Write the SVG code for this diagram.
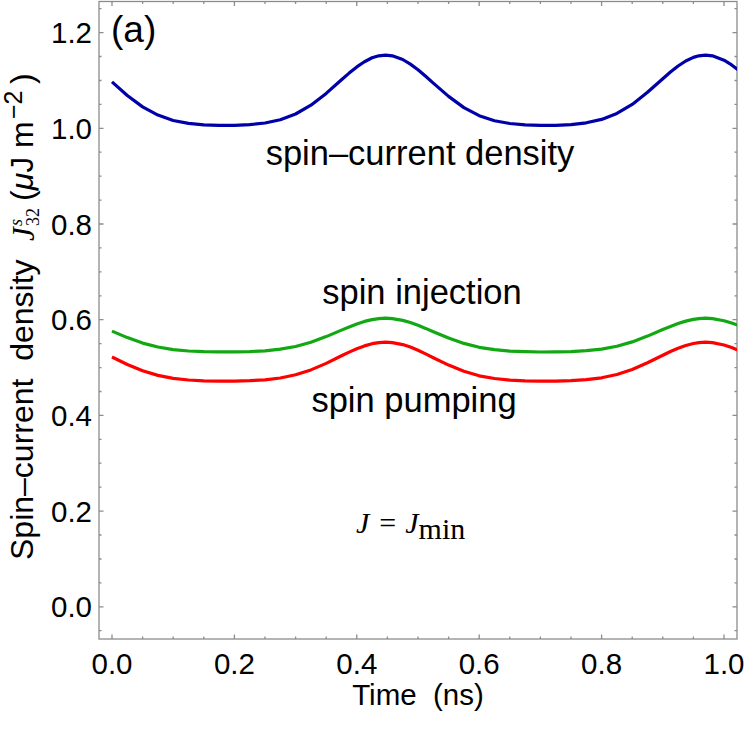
<svg xmlns="http://www.w3.org/2000/svg" width="747" height="729" viewBox="0 0 747 729">
<style>
.lbl{font-family:"Liberation Sans",Arial,sans-serif;fill:#000}
.tk{font-family:"Liberation Sans",Arial,sans-serif;font-size:29.5px;fill:#000}
.ser{font-family:"Liberation Serif","Times New Roman",serif;fill:#000}
.curve{fill:none;stroke-width:3.2;stroke-linejoin:round;stroke-linecap:butt}
.ax{fill:none;stroke:#8c8c8c;stroke-width:1.3}
</style>
<defs>
<clipPath id="plotclip"><rect x="99" y="1.5" width="638" height="637.5"/></clipPath>
</defs>
<rect width="747" height="729" fill="#fff"/>
<g id="frame">
<rect class="ax" x="99" y="1.5" width="638" height="637.5"/>
<path class="ax" d="M99 606.8h4.5M99 511.1h4.5M99 415.4h4.5M99 319.7h4.5M99 224h4.5M99 128.3h4.5M99 32.6h4.5
M737 606.8h-4.5M737 511.1h-4.5M737 415.4h-4.5M737 319.7h-4.5M737 224h-4.5M737 128.3h-4.5M737 32.6h-4.5
M112 639v-4.5M234.4 639v-4.5M356.8 639v-4.5M479.2 639v-4.5M601.6 639v-4.5M724 639v-4.5
M112 1.5v4.5M234.4 1.5v4.5M356.8 1.5v4.5M479.2 1.5v4.5M601.6 1.5v4.5M724 1.5v4.5"/>
<path class="ax" d="M99 630.7h2.5M99 582.9h2.5M99 559h2.5M99 535h2.5M99 487.2h2.5M99 463.2h2.5M99 439.3h2.5M99 391.5h2.5M99 367.6h2.5M99 343.6h2.5M99 295.8h2.5M99 271.9h2.5M99 247.9h2.5M99 200.1h2.5M99 176.2h2.5M99 152.2h2.5M99 104.4h2.5M99 80.5h2.5M99 56.5h2.5M99 8.7h2.5
M737 630.7h-2.5M737 582.9h-2.5M737 559h-2.5M737 535h-2.5M737 487.2h-2.5M737 463.2h-2.5M737 439.3h-2.5M737 391.5h-2.5M737 367.6h-2.5M737 343.6h-2.5M737 295.8h-2.5M737 271.9h-2.5M737 247.9h-2.5M737 200.1h-2.5M737 176.2h-2.5M737 152.2h-2.5M737 104.4h-2.5M737 80.5h-2.5M737 56.5h-2.5M737 8.7h-2.5
M142.6 639v-2.5M173.2 639v-2.5M203.8 639v-2.5M265 639v-2.5M295.6 639v-2.5M326.2 639v-2.5M387.4 639v-2.5M418 639v-2.5M448.6 639v-2.5M509.8 639v-2.5M540.4 639v-2.5M571 639v-2.5M632.2 639v-2.5M662.8 639v-2.5M693.4 639v-2.5
M142.6 1.5v2.5M173.2 1.5v2.5M203.8 1.5v2.5M265 1.5v2.5M295.6 1.5v2.5M326.2 1.5v2.5M387.4 1.5v2.5M418 1.5v2.5M448.6 1.5v2.5M509.8 1.5v2.5M540.4 1.5v2.5M571 1.5v2.5M632.2 1.5v2.5M662.8 1.5v2.5M693.4 1.5v2.5"/>
</g>
<g id="tick-labels">
<g text-anchor="end">
<text class="tk" x="92" y="617.3">0.0</text>
<text class="tk" x="92" y="521.6">0.2</text>
<text class="tk" x="92" y="425.9">0.4</text>
<text class="tk" x="92" y="330.2">0.6</text>
<text class="tk" x="92" y="234.5">0.8</text>
<text class="tk" x="92" y="138.8">1.0</text>
<text class="tk" x="92" y="43.1">1.2</text>
</g>
<g text-anchor="middle">
<text class="tk" x="112" y="674">0.0</text>
<text class="tk" x="234.4" y="674">0.2</text>
<text class="tk" x="356.8" y="674">0.4</text>
<text class="tk" x="479.2" y="674">0.6</text>
<text class="tk" x="601.6" y="674">0.8</text>
<text class="tk" x="724" y="674">1.0</text>
</g>
</g>
<g id="x-axis-label">
<text class="lbl" x="418" y="705" font-size="29.5" text-anchor="middle" xml:space="preserve">Time  (ns)</text>
</g>
<g id="y-axis-label" transform="translate(33,0) rotate(-90)">
<text class="lbl" x="-560" y="0" font-size="32" xml:space="preserve">Spin–current  density</text>
<text class="ser" x="-241" y="1" font-size="31" font-style="italic">J</text>
<text class="ser" x="-226" y="-11" font-size="18" font-style="italic">s</text>
<text class="ser" x="-226" y="6" font-size="18">32</text>
<text class="lbl" x="-201" y="0" font-size="32" xml:space="preserve">(<tspan font-style="italic">μ</tspan>J m</text>
<text class="lbl" x="-119" y="-11" font-size="25">−2</text>
<text class="lbl" x="-84" y="0" font-size="32">)</text>
</g>
<g id="connectors" clip-path="url(#plotclip)">
<polyline id="spin-current-density-curve" class="curve" stroke="#0000a8" points="112,81.9 127.3,95.5 142.6,106.9 157.9,115.1 173.2,120.5 188.5,123.4 203.8,124.8 219.1,125.4 234.4,125.3 249.7,124.7 265,123 280.3,119.7 295.6,114 310.9,105.2 326.2,93.4 341.5,79.7 349.15,73.1 356.8,66.9 364.45,61.7 372.1,57.8 378.8,55.8 385.6,55.1 392.3,55.8 402.7,59.5 410.35,64.1 418,69.7 425.65,76.3 433.3,83.1 448.6,96.4 463.9,107.6 479.2,115.7 494.5,120.7 509.8,123.5 525.1,124.9 540.4,125.4 555.7,125.3 571,124.6 586.3,122.8 601.6,119.4 616.9,113.4 632.2,104.4 647.5,92.3 662.8,78.7 670.45,72 678.1,66 685.75,61 693.4,57.4 698.9,55.8 705.6,55.1 712.4,55.8 724,60.2 731.65,64.9 739.3,70.7"/>
<polyline id="spin-injection-curve" class="curve" stroke="#12a812" points="112,331.1 127.3,337.6 142.6,343.1 157.9,347 173.2,349.6 188.5,351 203.8,351.7 219.1,351.9 234.4,351.9 249.7,351.6 265,350.8 280.3,349.2 295.6,346.5 310.9,342.3 326.2,336.6 341.5,330.1 349.15,326.9 356.8,323.9 364.45,321.4 372.1,319.6 378.8,318.6 385.6,318.2 392.3,318.6 402.7,320.4 410.35,322.5 418,325.3 425.65,328.4 433.3,331.7 448.6,338.1 463.9,343.4 479.2,347.3 494.5,349.7 509.8,351.1 525.1,351.7 540.4,352 555.7,351.9 571,351.6 586.3,350.7 601.6,349.1 616.9,346.2 632.2,341.9 647.5,336.1 662.8,329.5 670.45,326.4 678.1,323.5 685.75,321.1 693.4,319.4 698.9,318.6 705.6,318.2 712.4,318.6 724,320.7 731.65,323 739.3,325.7"/>
<polyline id="spin-pumping-curve" class="curve" stroke="#ff0000" points="112,357 127.3,364.5 142.6,370.8 157.9,375.4 173.2,378.4 188.5,380 203.8,380.8 219.1,381.1 234.4,381.1 249.7,380.7 265,379.8 280.3,378 295.6,374.8 310.9,369.9 326.2,363.4 341.5,355.8 349.15,352.1 356.8,348.7 364.45,345.9 372.1,343.7 378.8,342.6 385.6,342.2 392.3,342.6 402.7,344.6 410.35,347.1 418,350.3 425.65,353.9 433.3,357.7 448.6,365.1 463.9,371.3 479.2,375.8 494.5,378.5 509.8,380.1 525.1,380.8 540.4,381.1 555.7,381.1 571,380.7 586.3,379.7 601.6,377.8 616.9,374.5 632.2,369.5 647.5,362.8 662.8,355.2 670.45,351.5 678.1,348.2 685.75,345.5 693.4,343.5 698.9,342.6 705.6,342.2 712.4,342.6 724,345 731.65,347.6 739.3,350.8"/>
</g>
<g id="panel-label"><text class="lbl" x="111" y="42" font-size="37">(a)</text></g>
<g id="label-spin-current-density"><text class="lbl" x="420" y="165" font-size="34.5" text-anchor="middle">spin–current density</text></g>
<g id="label-spin-injection"><text class="lbl" x="422" y="303.5" font-size="34.5" text-anchor="middle">spin injection</text></g>
<g id="label-spin-pumping"><text class="lbl" x="414" y="411.5" font-size="34.5" text-anchor="middle">spin pumping</text></g>
<g id="label-condition"><text class="ser" x="356" y="533" font-size="30"><tspan font-style="italic">J</tspan><tspan dx="10">=</tspan><tspan dx="9" font-style="italic">J</tspan><tspan font-size="30" dy="6">min</tspan></text></g>
</svg>
